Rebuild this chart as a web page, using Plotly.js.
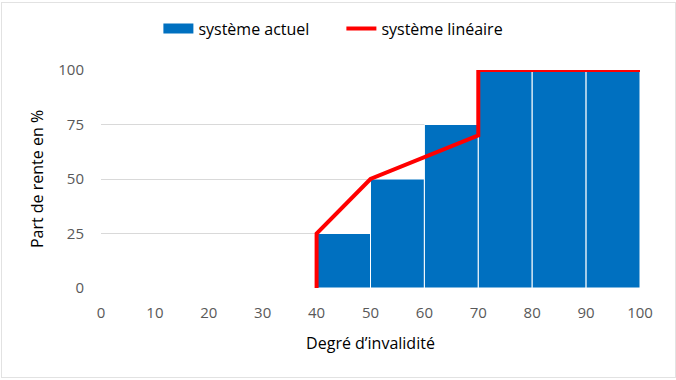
<!DOCTYPE html>
<html><head><meta charset="utf-8">
<script src="https://cdn.plot.ly/plotly-3.0.1.min.js"></script>
<style>html,body{margin:0;padding:0;background:#fff}#wrap{position:relative;width:676px;height:380px}#c{width:676px;height:380px}#frame{position:absolute;left:1px;top:2px;width:673px;height:374px;border:1px solid #e2e2e2;pointer-events:none}</style>
</head><body><div id="wrap"><div id="c"></div><div id="frame"></div></div>
<script>
// data
const barStart = [40, 50, 60, 70, 80, 90];
const barValues = [25, 50, 75, 100, 100, 100];
const lineX = [40, 40, 50, 70, 70, 100];
const lineY = [0, 25, 50, 70, 100, 100];
const xTicks = [0, 10, 20, 30, 40, 50, 60, 70, 80, 90, 100];
const yTicks = [0, 25, 50, 75, 100];

const FONT = 'Open Sans, Noto Sans, sans-serif';
const blue = '#0070C0', red = '#FF0000';
const traces = [
  {type:'bar', x: barStart, y: barValues, width: 10, offset: 0,
   marker:{color: blue, line:{color:'#ffffff', width:1}}, showlegend:false, hoverinfo:'none'},
  {type:'scatter', mode:'lines', x:[null], y:[null], name:'système actuel',
   line:{color: blue, width: 10}, hoverinfo:'none'},
  {type:'scatter', mode:'lines', x: lineX, y: lineY, name:'système linéaire',
   line:{color: red, width: 4}, hoverinfo:'none'}
];
const layout = {
  width: 676, height: 380,
  margin:{l:101, r:36, t:70, b:92, autoexpand:false},
  paper_bgcolor:'#fff', plot_bgcolor:'#fff',
  font:{family: FONT, size: 15, color:'#595959'},
  showlegend:true,
  legend:{orientation:'h', x:0.446, xanchor:'center', y:1.19, yanchor:'middle',
    font:{family:FONT, size:16, color:'#000'}, traceorder:'normal', entrywidth:138, entrywidthmode:'pixels'},
  xaxis:{range:[0,100], tickvals:xTicks, ticktext:xTicks.map(String), showgrid:false,
    zeroline:false, showline:false, ticks:'', ticklen:0, fixedrange:true, ticklabelstandoff:14,
    title:{text:'Degré d’invalidité', font:{family:FONT, size:16, color:'#000'}, standoff:16}},
  yaxis:{range:[0,100], tickvals:yTicks, ticktext:yTicks.map(String), showgrid:true,
    gridcolor:'#d9d9d9', gridwidth:1, zeroline:false, showline:false, ticks:'', ticklen:0,
    fixedrange:true, ticklabelstandoff:16,
    title:{text:'Part de rente en %', font:{family:FONT, size:16, color:'#000'}, standoff:10}},
  bargap:0
};
Plotly.newPlot('c', traces, layout, {displayModeBar:false, staticPlot:true});
</script></body></html>
